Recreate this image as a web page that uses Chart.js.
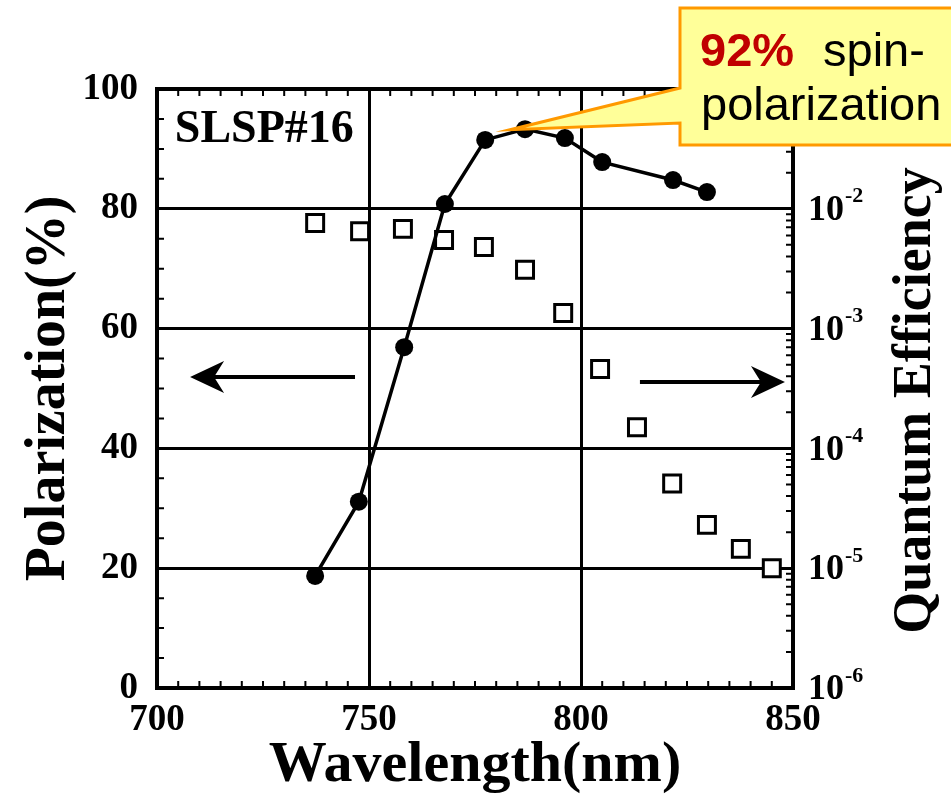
<!DOCTYPE html>
<html>
<head>
<meta charset="utf-8">
<script src="https://cdn.jsdelivr.net/npm/chart.js@4.4.1/dist/chart.umd.min.js"></script>
<style>
  html, body { margin: 0; padding: 0; background: #fff; }
  #wrap { width: 951px; height: 801px; }
</style>
</head>
<body>
<div id="wrap"><canvas id="chart_polQE" width="951" height="801"></canvas></div>
<script>
// values
const wavelengthPol = [737.3, 747.6, 758.3, 767.9, 777.4, 786.8, 796.2, 805.0, 821.7, 829.7];
const polarization  = [18.7, 31.1, 56.9, 80.8, 91.5, 93.3, 91.8, 87.8, 84.8, 82.8];
const wavelengthQE  = [737.3, 747.9, 758.0, 767.7, 777.1, 786.8, 795.8, 804.5, 813.2, 821.5, 829.7, 837.7, 845.0];
const quantumEff    = [7.6e-3, 6.5e-3, 6.8e-3, 5.5e-3, 4.8e-3, 3.1e-3, 1.35e-3, 4.6e-4, 1.5e-4, 5.1e-5, 2.3e-5, 1.45e-5, 1.0e-5];
const xTicks   = [700, 750, 800, 850];
const polTicks = [0, 20, 40, 60, 80, 100];
const qeExps   = [-6, -5, -4, -3, -2, -1];

const serif = '"Liberation Serif", "Times New Roman", serif';
const sans = '"Liberation Sans", Arial, sans-serif';

const extras = {
    id: 'extras',
    beforeDraw: (chart) => {
        const ctx = chart.ctx;
        ctx.save();
        ctx.fillStyle = 'white';
        ctx.fillRect(0, 0, chart.width, chart.height);
        ctx.restore();
    },
    beforeDatasetsDraw: (chart) => {
        const ctx = chart.ctx;
        const a = chart.chartArea;
        const x = chart.scales.x, y = chart.scales.y, q = chart.scales.q;
        ctx.save();
        ctx.strokeStyle = '#000';
        ctx.lineWidth = 2;
        ctx.beginPath();
        // minor ticks, pointing inwards
        for (let w = xTicks[0] + 5; w < xTicks[xTicks.length - 1]; w += 5) {
            const px = x.getPixelForValue(w);
            ctx.moveTo(px, a.bottom); ctx.lineTo(px, a.bottom - 7);
            ctx.moveTo(px, a.top); ctx.lineTo(px, a.top + 7);
        }
        for (let p = 5; p < 100; p += 5) {
            const py = y.getPixelForValue(p);
            ctx.moveTo(a.left, py); ctx.lineTo(a.left + 7, py);
        }
        for (let i = 0; i < qeExps.length - 1; i++) {
            for (let m = 1; m < 10; m++) {
                const py = q.getPixelForValue(m * Math.pow(10, qeExps[i]));
                ctx.moveTo(a.right, py); ctx.lineTo(a.right - (m === 1 ? 12 : 7), py);
            }
        }
        ctx.stroke();
        // frame
        ctx.lineWidth = 4;
        ctx.strokeRect(a.left, a.top, a.right - a.left, a.bottom - a.top);
        ctx.restore();
    },
    afterDatasetsDraw: (chart) => {
        const ctx = chart.ctx;
        const a = chart.chartArea;
        const x = chart.scales.x, y = chart.scales.y, q = chart.scales.q;
        ctx.save();
        ctx.fillStyle = '#000';
        ctx.strokeStyle = '#000';

        // sample label
        ctx.font = 'bold 46px ' + serif;
        ctx.textBaseline = 'alphabetic';
        ctx.textAlign = 'left';
        ctx.fillText('SLSP#16', x.getPixelForValue(704.2), y.getPixelForValue(91.2));

        // arrows
        function arrow(x0, x1, yy) {
            const dir = Math.sign(x1 - x0);
            ctx.lineWidth = 4;
            ctx.beginPath();
            ctx.moveTo(x0, yy); ctx.lineTo(x1 - dir * 20, yy);
            ctx.stroke();
            ctx.beginPath();
            ctx.moveTo(x1, yy);
            ctx.lineTo(x1 - dir * 34, yy - 16);
            ctx.lineTo(x1 - dir * 24, yy);
            ctx.lineTo(x1 - dir * 34, yy + 16);
            ctx.closePath();
            ctx.fill();
        }
        arrow(x.getPixelForValue(746.7), x.getPixelForValue(707.8), y.getPixelForValue(51.9));
        arrow(x.getPixelForValue(813.9), x.getPixelForValue(848.1), y.getPixelForValue(51.1));

        // right axis tick labels 10^n
        ctx.textBaseline = 'middle';
        qeExps.forEach(e => {
            const py = q.getPixelForValue(Math.pow(10, e));
            ctx.font = 'bold 36px ' + serif;
            ctx.fillText('10', a.right + 15, py + 2);
            const wBase = ctx.measureText('10').width;
            ctx.font = 'bold 22px ' + serif;
            ctx.fillText('-' + Math.abs(e), a.right + 15 + wBase + 1, py - 12);
        });

        // right axis title
        ctx.save();
        ctx.translate(916, (a.top + a.bottom) / 2 + 12);
        ctx.rotate(-Math.PI / 2);
        ctx.font = 'bold 54px ' + serif;
        ctx.textAlign = 'center';
        ctx.textBaseline = 'middle';
        ctx.fillText('Quantum Efficiency', 0, 0);
        ctx.restore();
        ctx.restore();
    },
    afterDraw: (chart) => {
        const ctx = chart.ctx;
        const x = chart.scales.x, y = chart.scales.y;
        const tipX = x.getPixelForValue(783.3), tipY = y.getPixelForValue(93.2);
        ctx.save();
        ctx.beginPath();
        ctx.moveTo(680, 8);
        ctx.lineTo(960, 8);
        ctx.lineTo(960, 145);
        ctx.lineTo(680, 145);
        ctx.lineTo(680, 123);
        ctx.lineTo(tipX, tipY);
        ctx.lineTo(680, 88);
        ctx.closePath();
        ctx.fillStyle = '#FFFF99';
        ctx.fill();
        ctx.lineWidth = 3;
        ctx.strokeStyle = '#FF9900';
        ctx.stroke();
        ctx.textBaseline = 'alphabetic';
        ctx.textAlign = 'left';
        ctx.font = 'bold 47px ' + sans;
        ctx.fillStyle = '#C00000';
        ctx.fillText('92%', 700, 66);
        ctx.font = '47px ' + sans;
        ctx.fillStyle = '#000';
        ctx.fillText('spin-', 823, 66);
        ctx.fillText('polarization', 701, 120);
        ctx.restore();
    }
};

const chart_polQE = new Chart(document.getElementById('chart_polQE'), {
    type: 'scatter',
    data: {
        datasets: [
            {
                label: 'Polarization',
                data: wavelengthPol.map((w, i) => ({ x: w, y: polarization[i] })),
                yAxisID: 'y',
                showLine: true,
                borderColor: '#000',
                borderWidth: 3.5,
                backgroundColor: '#000',
                pointStyle: 'circle',
                pointRadius: 9,
                pointBorderWidth: 0
            },
            {
                label: 'Quantum Efficiency',
                data: wavelengthQE.map((w, i) => ({ x: w, y: quantumEff[i] })),
                yAxisID: 'q',
                showLine: false,
                borderColor: '#000',
                backgroundColor: '#fff',
                pointStyle: 'rect',
                pointRadius: 12,
                pointBorderWidth: 3
            }
        ]
    },
    options: {
        animation: false,
        responsive: false,
        layout: { padding: { top: 89, left: 0, right: 0, bottom: 0 } },
        plugins: {
            legend: { display: false },
            tooltip: { enabled: false }
        },
        scales: {
            x: {
                type: 'linear',
                min: 700,
                max: 850,
                afterBuildTicks: s => { s.ticks = xTicks.map(v => ({ value: v })); },
                afterFit: s => { s.height = 113; },
                ticks: {
                    color: '#000',
                    padding: 10,
                    font: { family: serif, size: 37, weight: 'bold' }
                },
                grid: { color: '#000', lineWidth: 3, drawTicks: false },
                border: { display: false },
                title: {
                    display: true,
                    text: 'Wavelength(nm)',
                    color: '#000',
                    padding: 0,
                    font: { family: serif, size: 58, weight: 'bold' }
                }
            },
            y: {
                type: 'linear',
                position: 'left',
                min: 0,
                max: 100,
                afterBuildTicks: s => { s.ticks = polTicks.map(v => ({ value: v })); },
                afterFit: s => { s.width = 157; },
                ticks: {
                    color: '#000',
                    padding: 19,
                    font: { family: serif, size: 37, weight: 'bold' }
                },
                grid: { color: '#000', lineWidth: 3, drawTicks: false },
                border: { display: false },
                title: {
                    display: true,
                    text: 'Polarization(%)',
                    color: '#000',
                    padding: { top: 16, bottom: 0 },
                    font: { family: serif, size: 56, weight: 'bold' }
                }
            },
            q: {
                type: 'logarithmic',
                position: 'right',
                min: 1e-6,
                max: 1e-1,
                afterFit: s => { s.width = 158; },
                ticks: { display: false },
                grid: { display: false },
                border: { display: false }
            }
        }
    },
    plugins: [extras]
});
</script>
</body>
</html>
